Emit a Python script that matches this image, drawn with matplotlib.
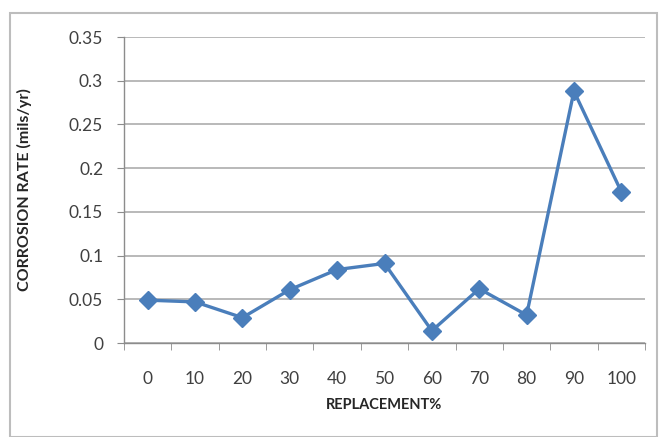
import matplotlib
matplotlib.use("Agg")
import matplotlib.pyplot as plt
from matplotlib.patches import Rectangle
from matplotlib.ticker import FixedLocator

# data
replacement = ["0", "10", "20", "30", "40", "50", "60", "70", "80", "90", "100"]
corrosion_rate = [0.049, 0.047, 0.029, 0.061, 0.084, 0.091, 0.014, 0.062, 0.032, 0.288, 0.173]
y_ticks = [0, 0.05, 0.1, 0.15, 0.2, 0.25, 0.3, 0.35]
y_tick_labels = ["0", "0.05", "0.1", "0.15", "0.2", "0.25", "0.3", "0.35"]

plt.rcParams['font.family'] = ['Lato', 'DejaVu Sans']

W, H = 665, 437
fig = plt.figure(figsize=(W / 100, H / 100), dpi=100)
ax = fig.add_axes([124 / W, 1 - 343 / H, (645 - 124) / W, (343 - 37) / H])

# outer chart border
fig.patches.append(Rectangle((10 / W, 0), (657 - 10) / W, 1 - 13 / H,
                             transform=fig.transFigure, fill=False,
                             edgecolor="#BDBDBD", linewidth=1.5))

x = list(range(len(replacement)))
ax.plot(x, corrosion_rate, color="#4A7EBB", linewidth=2.4,
        marker="D", markersize=9.5, markerfacecolor="#4A7EBB",
        markeredgecolor="#4A7EBB", zorder=3, clip_on=False)

ax.set_xlim(-0.5, len(replacement) - 0.5)
ax.set_ylim(0, 0.35)
ax.set_yticks(y_ticks)
ax.set_yticklabels(y_tick_labels)
ax.set_xticks(x)
ax.set_xticklabels(replacement)
ax.xaxis.set_minor_locator(FixedLocator([i - 0.5 for i in range(len(replacement) + 1)]))

ax.grid(axis="y", color="#A6A6A6", linewidth=1.1)
ax.set_axisbelow(True)
for side in ["top", "right"]:
    ax.spines[side].set_visible(False)
for side in ["left", "bottom"]:
    ax.spines[side].set_color("#8C8C8C")
    ax.spines[side].set_linewidth(1.0)

ax.tick_params(axis="x", which="major", length=0, pad=20, labelsize=12.5, labelcolor="#404040")
ax.tick_params(axis="x", which="minor", length=5, color="#8C8C8C", direction="out")
ax.tick_params(axis="y", length=5, color="#8C8C8C", direction="out", pad=10,
               labelsize=12.5, labelcolor="#404040")

ax.set_xlabel("REPLACEMENT%", fontsize=10.5, fontweight="bold", color="#262626")
ax.set_ylabel("CORROSION RATE (mils/yr)", fontsize=11.5, fontweight="bold", color="#262626")
ax.xaxis.set_label_coords(0.5, (343 - 405) / 306)
ax.xaxis.label.set_va("center")
ax.yaxis.set_label_coords((24 - 124) / 521, 0.5)
ax.yaxis.label.set_va("center")

fig.savefig("out.png", dpi=100)
